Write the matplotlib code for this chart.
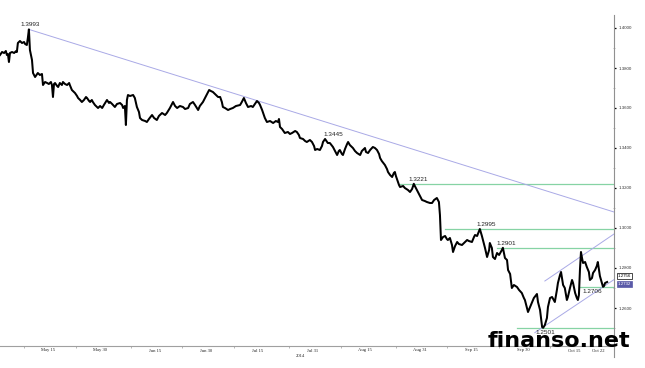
import matplotlib
matplotlib.use("Agg")
import matplotlib.pyplot as plt
import matplotlib.transforms as mtransforms
from matplotlib.lines import Line2D
import numpy as np
import pandas as pd

# EUR/USD, May - Oct 2014; x = days since 2014-05-01
start = pd.Timestamp("2014-05-01")

day = [
    0.0, 0.6, 1.2, 1.7, 2.0, 2.3, 2.6, 2.9, 3.5, 4.1, 4.7, 4.9, 5.2, 5.8, 6.4, 7.0,
    7.3, 7.8, 8.1, 8.4, 8.7, 9.0, 9.3, 9.6, 10.2, 10.8, 11.0, 11.6, 12.2, 12.5, 13.1,
    13.7, 14.2, 14.8, 15.1, 15.4, 15.7, 16.0, 16.6, 16.9, 17.4, 18.0, 18.3, 18.9, 19.5,
    20.1, 20.3, 20.9, 21.5, 21.8, 22.4, 22.7, 23.3, 23.8, 24.4, 25.0, 25.3, 25.9, 26.2,
    26.7, 27.0, 27.6, 28.2, 28.5, 29.1, 29.7, 30.2, 31.1, 31.7, 32.0,
    32.6, 33.4, 34.0, 34.9, 35.5, 35.8, 36.3, 36.6, 36.9, 37.2, 37.8, 38.7, 39.2, 39.8,
    40.4, 40.7, 41.3, 42.2, 42.7, 43.3, 44.2, 44.8, 45.6, 46.2, 47.1, 48.0, 48.5, 49.4,
    50.3, 50.9, 51.5, 52.3, 53.2, 53.8, 54.7, 55.2, 56.1, 56.7, 57.6, 58.1, 59.0, 59.6,
    60.2, 60.8, 61.3, 61.9, 62.5, 63.4,
    64.0, 64.5, 64.8, 65.4, 66.3, 66.9, 67.7, 68.6, 69.8, 70.3, 70.9, 71.5, 72.1, 73.0,
    73.5, 74.1, 74.7, 75.3, 75.6, 76.2, 76.5, 77.0, 77.6, 78.5, 79.4, 80.2, 80.8, 81.1,
    81.4, 82.0, 82.8, 83.7, 84.3, 84.9, 85.8, 86.3, 86.9, 87.2, 88.1, 88.7, 89.2, 90.1,
    90.7, 91.3, 91.6, 92.2, 93.0, 93.6, 93.9, 94.5, 95.3,
    95.9, 96.8, 97.4, 98.0, 98.5, 98.8, 99.4, 99.7, 100.3, 100.9, 101.2, 101.7, 102.6,
    103.2, 103.8, 104.7, 105.2, 106.1, 106.4, 107.0, 107.6, 108.4, 109.0, 109.6, 110.2,
    110.5, 111.0, 111.9, 112.5, 112.8, 113.4, 114.0, 114.5, 114.8, 115.1, 115.7, 116.0,
    116.3, 117.2, 117.7, 118.6, 119.2, 119.8, 120.3, 120.6, 121.2, 121.5, 122.1, 122.7,
    123.5, 124.1, 125.0, 125.6, 126.2, 127.0, 127.6, 127.9, 128.2, 128.8,
    129.4, 129.9, 130.2, 130.8, 131.4, 131.7, 132.3, 132.9, 133.4, 134.3, 134.9, 135.8,
    136.3, 137.2, 137.8, 138.1, 138.7, 139.5, 140.1, 140.4, 141.0, 141.6, 142.2, 142.4,
    143.0, 143.3, 143.9, 144.5, 145.1, 145.9, 146.2, 146.8, 147.4, 147.7, 148.3, 148.8,
    149.4, 150.3, 150.9, 151.7, 152.3, 152.6, 153.2, 153.5, 154.1, 154.7, 155.2, 156.1,
    156.4, 157.0, 157.6, 157.9, 158.4, 159.0, 159.3, 159.9,
    160.5, 161.3, 161.9, 162.2, 162.8, 163.1, 163.7, 164.2, 164.8, 165.1, 165.7, 166.3,
    166.6, 167.2, 167.7, 168.0, 168.3, 168.6, 168.9, 169.2, 169.5, 170.1, 170.6, 171.2,
    171.5, 172.1, 172.4, 173.0, 173.5, 173.8, 174.4, 175.0, 175.3, 175.6, 175.9, 176.5,
]

price = [
    1.3865, 1.3880, 1.3875, 1.3885, 1.3865, 1.3870, 1.3830, 1.3875, 1.3880, 1.3875,
    1.3885, 1.3880, 1.3925, 1.3935, 1.3925, 1.3930, 1.3920, 1.3915, 1.3950, 1.3993,
    1.3890, 1.3865, 1.3840, 1.3775, 1.3755, 1.3770, 1.3775, 1.3765, 1.3770, 1.3715,
    1.3730, 1.3725, 1.3720, 1.3730, 1.3715, 1.3655, 1.3720, 1.3725, 1.3710, 1.3705,
    1.3725, 1.3715, 1.3730, 1.3720, 1.3715, 1.3725, 1.3715, 1.3690, 1.3680, 1.3675,
    1.3660, 1.3650, 1.3640, 1.3630, 1.3640, 1.3655, 1.3650, 1.3635, 1.3630, 1.3640,
    1.3630, 1.3615, 1.3605, 1.3600, 1.3610, 1.3600, 1.3615, 1.3640, 1.3625, 1.3630,
    1.3620, 1.3605, 1.3620, 1.3625, 1.3615, 1.3600, 1.3610, 1.3515, 1.3640, 1.3665,
    1.3660, 1.3665, 1.3650, 1.3605, 1.3580, 1.3550, 1.3540, 1.3535, 1.3530, 1.3545,
    1.3565, 1.3550, 1.3540, 1.3560, 1.3575, 1.3565, 1.3575, 1.3600, 1.3630, 1.3610,
    1.3600, 1.3610, 1.3605, 1.3595, 1.3600, 1.3620, 1.3630, 1.3615, 1.3590, 1.3610,
    1.3630, 1.3650, 1.3670, 1.3690, 1.3685, 1.3680, 1.3670, 1.3655,
    1.3655, 1.3630, 1.3605, 1.3600, 1.3590, 1.3595, 1.3600, 1.3610, 1.3615, 1.3630,
    1.3650, 1.3625, 1.3605, 1.3610, 1.3605, 1.3620, 1.3635, 1.3625, 1.3615, 1.3590,
    1.3575, 1.3550, 1.3530, 1.3535, 1.3525, 1.3535, 1.3530, 1.3545, 1.3505, 1.3495,
    1.3475, 1.3480, 1.3470, 1.3475, 1.3485, 1.3480, 1.3465, 1.3450, 1.3445, 1.3435,
    1.3430, 1.3440, 1.3430, 1.3410, 1.3390, 1.3395, 1.3390, 1.3410, 1.3430, 1.3445,
    1.3425,
    1.3425, 1.3405, 1.3385, 1.3365, 1.3385, 1.3390, 1.3370, 1.3365, 1.3395, 1.3420,
    1.3430, 1.3415, 1.3400, 1.3385, 1.3375, 1.3365, 1.3385, 1.3400, 1.3380, 1.3375,
    1.3390, 1.3405, 1.3400, 1.3390, 1.3370, 1.3350, 1.3335, 1.3315, 1.3295, 1.3280,
    1.3265, 1.3255, 1.3275, 1.3280, 1.3260, 1.3230, 1.3215, 1.3205, 1.3210, 1.3200,
    1.3190, 1.3180, 1.3195, 1.3221, 1.3210, 1.3190, 1.3180, 1.3160, 1.3140, 1.3135,
    1.3130, 1.3125, 1.3125, 1.3140, 1.3150, 1.3130, 1.3065, 1.2940, 1.2955,
    1.2960, 1.2945, 1.2940, 1.2950, 1.2915, 1.2880, 1.2910, 1.2930, 1.2920, 1.2915,
    1.2925, 1.2940, 1.2935, 1.2930, 1.2955, 1.2965, 1.2960, 1.2995, 1.2960, 1.2940,
    1.2900, 1.2855, 1.2890, 1.2925, 1.2900, 1.2855, 1.2845, 1.2875, 1.2865, 1.2890,
    1.2901, 1.2850, 1.2840, 1.2790, 1.2770, 1.2700, 1.2715, 1.2705, 1.2690, 1.2675,
    1.2650, 1.2640, 1.2600, 1.2580, 1.2605, 1.2630, 1.2650, 1.2670, 1.2630, 1.2590,
    1.2505, 1.2501, 1.2515, 1.2550, 1.2605, 1.2650,
    1.2655, 1.2630, 1.2690, 1.2725, 1.2765, 1.2780, 1.2715, 1.2700, 1.2640, 1.2655,
    1.2700, 1.2740, 1.2725, 1.2675, 1.2650, 1.2640, 1.2665, 1.2790, 1.2880, 1.2850,
    1.2825, 1.2830, 1.2805, 1.2780, 1.2740, 1.2750, 1.2775, 1.2790, 1.2810, 1.2830,
    1.2760, 1.2725, 1.2706, 1.2710, 1.2725, 1.2730,
]

# labelled highs / lows: value, label centre (days)
mark_values = [1.3993, 1.3445, 1.3221, 1.2995, 1.2901, 1.2706, 1.2501]
mark_days = [8.7, 96.8, 121.5, 141.3, 147.1, 172.1, 158.4]
mark_below = [False, False, False, False, False, True, True]

# horizontal levels: value, first day
level_values = [1.3221, 1.2995, 1.2901, 1.2706, 1.2501]
level_start = [116.3, 129.4, 144.5, 168.6, 150.3]

# trend line and channel: (day, value) end points
trend = [(8.4, 1.3993), (178.5, 1.3080)]
channel_top = [(158.4, 1.2735), (178.5, 1.2970)]
channel_bottom = [(155.5, 1.2477), (178.5, 1.2742)]

last_prices = [1.2756, 1.2732]

date_labels = ["May 15", "May 30", "Jun 15", "Jun 30", "Jul 15", "Jul 31",
               "Aug 15", "Aug 31", "Sep 15", "Sep 30", "Oct 15", "Oct 22"]
date_ticks = ["2014-05-15", "2014-05-30", "2014-06-15", "2014-06-30", "2014-07-15",
              "2014-07-31", "2014-08-15", "2014-08-31", "2014-09-15", "2014-09-30",
              "2014-10-15", "2014-10-22"]


def to_time(d):
    return start + pd.to_timedelta(np.asarray(d, dtype=float), unit="D")


fig = plt.figure(figsize=(6.45, 3.68), dpi=100)
ax = fig.add_axes([0, 22 / 368, 614 / 645, 346 / 368])

trend_col = "#a9a9e6"
level_col = "#86d3a4"
end_day = 178.5

ax.plot(to_time(day), price, color="black", lw=1.45, zorder=5)

for (d0, v0), (d1, v1) in [trend, channel_top, channel_bottom]:
    ax.plot(to_time([d0, d1]), [v0, v1], color=trend_col, lw=0.7, zorder=3)

for v, d0 in zip(level_values, level_start):
    ax.plot(to_time([d0, end_day]), [v, v], color=level_col, lw=0.9, zorder=2)

for v, d, below in zip(mark_values, mark_days, mark_below):
    ax.annotate(f"{v:.4f}", (to_time([d])[0], v), xytext=(0, -1.5 if below else 1.5),
                textcoords="offset points", ha="center",
                va="top" if below else "bottom", fontsize=4.6,
                family="Liberation Sans", color="#222222", zorder=6)

ax.set_xlim(start, to_time([end_day])[0])
ax.set_ylim(1.241, 1.414)

for s in ["top", "left", "right"]:
    ax.spines[s].set_visible(False)
ax.spines["bottom"].set_color("#a0a0a0")
ax.spines["bottom"].set_linewidth(0.8)

# x axis
major = pd.to_datetime(date_ticks)
ax.set_xticks(major)
ax.set_xticklabels(date_labels, fontsize=3.3, family="Liberation Serif", color="#222222")
ax.set_xticks(major - pd.Timedelta(days=7), minor=True)
ax.tick_params(axis="x", which="major", length=0, pad=1.8)
ax.tick_params(axis="x", which="minor", length=1.5, width=0.5, color="#999999")
ax.text(to_time([87.2])[0], -0.028, "2014", transform=mtransforms.blended_transform_factory(
    ax.transData, ax.transAxes), ha="center", va="center", fontsize=3.3,
    family="Liberation Serif", color="#222222")

# y axis on the right
ax.yaxis.tick_right()
yt = np.round(np.arange(1.26, 1.401, 0.02), 2)
ax.set_yticks(yt)
ax.set_yticklabels([f"{v:.4f}" for v in yt], fontsize=3.2, family="Liberation Sans",
                   color="#333333")
ax.set_yticks(np.round(np.arange(1.25, 1.41, 0.02), 2), minor=True)
ax.tick_params(axis="y", which="major", length=1.5, width=0.9, color="black", pad=1.5)
ax.tick_params(axis="y", which="minor", length=2, width=0.5, color="#999999",
               direction="inout")
ax.add_line(Line2D([1, 1], [-0.032, 0.957], transform=ax.transAxes, color="#909090",
                   lw=0.8, clip_on=False))

# last price boxes
ax.text(1.006, last_prices[0] + 0.0004, f"{last_prices[0]:.4f}",
        transform=mtransforms.blended_transform_factory(ax.transAxes, ax.transData),
        fontsize=3.2, family="Liberation Sans", color="black", va="center", ha="left",
        bbox=dict(boxstyle="square,pad=0.25", fc="white", ec="black", lw=0.5))
ax.text(1.006, last_prices[1] - 0.0012, f"{last_prices[1]:.4f}",
        transform=mtransforms.blended_transform_factory(ax.transAxes, ax.transData),
        fontsize=3.2, family="Liberation Sans", color="white", va="center", ha="left",
        bbox=dict(boxstyle="square,pad=0.25", fc="#5a5aa8", ec="#5a5aa8", lw=0.5))

fig.text(488 / 645, 21 / 368, "finanso.net", fontsize=16, fontweight="bold",
         family="DejaVu Sans", color="black", ha="left", va="baseline")

fig.savefig("out.png", dpi=100)
